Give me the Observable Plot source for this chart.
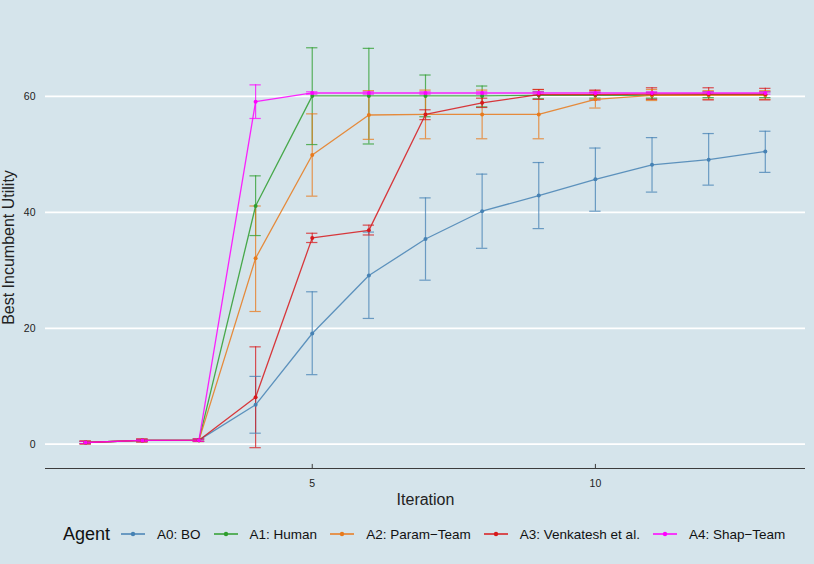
<!DOCTYPE html>
<html>
<head>
<meta charset="utf-8">
<script src="https://cdn.jsdelivr.net/npm/d3@7"></script>
<script src="https://cdn.jsdelivr.net/npm/@observablehq/plot@0.6"></script>
<style>
  html, body { margin: 0; padding: 0; background: #d5e4eb; }
  body { width: 814px; height: 564px; overflow: hidden; font-family: "Liberation Sans", Arial, sans-serif; }
  #legend { height: 44px; display: flex; align-items: center; padding-left: 63px; box-sizing: border-box; color: #111; white-space: nowrap; }
  #legend .title { font-size: 18px; margin-right: 11px; }
  #legend .item { display: flex; align-items: center; margin-right: 13px; font-size: 13.5px; }
  #legend svg { margin-right: 12px; }
</style>
</head>
<body>
<div id="chart"></div>
<div id="legend"></div>
<script>
const iterations = [1, 2, 3, 4, 5, 6, 7, 8, 9, 10, 11, 12, 13];
const agents = ["A0: BO", "A1: Human", "A2: Param\u2212Team", "A3: Venkatesh et al.", "A4: Shap\u2212Team"];
const colors = ["#4682B4", "#2E9E2E", "#E87A1C", "#D7191C", "#FF00FF"];

const boMean = [0.3, 0.65, 0.7, 6.8, 19.1, 29.1, 35.4, 40.2, 42.9, 45.7, 48.2, 49.1, 50.5];
const boLo   = [0.1, 0.45, 0.5, 1.9, 12.0, 21.7, 28.3, 33.8, 37.2, 40.2, 43.5, 44.7, 46.9];
const boHi   = [0.5, 0.85, 0.9, 11.7, 26.3, 36.6, 42.5, 46.6, 48.6, 51.1, 52.9, 53.6, 54.0];

const humanMean = [0.3, 0.65, 0.7, 41.1, 60.1, 60.1, 60.1, 60.1, 60.2, 60.2, 60.2, 60.3, 60.3];
const humanLo   = [0.1, 0.45, 0.5, 36.0, 51.7, 51.8, 56.5, 58.2, 59.6, 59.7, 59.7, 59.8, 59.8];
const humanHi   = [0.5, 0.85, 0.9, 46.3, 68.4, 68.3, 63.7, 61.8, 60.8, 60.7, 60.7, 60.8, 60.8];

const paramMean = [0.3, 0.65, 0.7, 32.1, 49.9, 56.8, 56.9, 56.9, 56.9, 59.5, 60.2, 60.2, 60.2];
const paramLo   = [0.0, 0.35, 0.45, 22.9, 42.8, 52.6, 52.7, 52.7, 52.7, 58.0, 59.3, 59.5, 59.5];
const paramHi   = [0.6, 0.95, 0.95, 41.1, 57.0, 61.0, 61.1, 61.1, 61.2, 61.0, 61.2, 61.0, 61.0];

const venkMean = [0.3, 0.65, 0.7, 8.1, 35.6, 36.9, 56.9, 58.9, 60.3, 60.3, 60.4, 60.4, 60.4];
const venkLo   = [0.1, 0.45, 0.5, -0.6, 34.8, 36.1, 56.0, 58.1, 59.5, 59.4, 59.5, 59.4, 59.4];
const venkHi   = [0.5, 0.85, 0.9, 16.8, 36.4, 37.8, 57.7, 59.7, 61.2, 61.1, 61.5, 61.5, 61.4];

const shapMean = [0.3, 0.65, 0.7, 59.1, 60.6, 60.6, 60.6, 60.6, 60.6, 60.6, 60.6, 60.6, 60.6];
const shapLo   = [0.1, 0.45, 0.5, 56.2, 60.4, 60.4, 60.4, 60.4, 60.4, 60.4, 60.4, 60.4, 60.4];
const shapHi   = [0.5, 0.85, 0.9, 62.0, 60.8, 60.8, 60.8, 60.8, 60.8, 60.8, 60.8, 60.8, 60.8];

const yTicks = [0, 20, 40, 60];
const xTicks = [5, 10];

const series = [
  [boMean, boLo, boHi],
  [humanMean, humanLo, humanHi],
  [paramMean, paramLo, paramHi],
  [venkMean, venkLo, venkHi],
  [shapMean, shapLo, shapHi]
];
const data = [];
series.forEach(([m, lo, hi], k) => {
  iterations.forEach((it, i) => data.push({agent: agents[k], iter: it, mean: m[i], lo: lo[i], hi: hi[i]}));
});

const capHalf = 0.1;
const xDomain = [0.29, 13.71];
const yDomain = [-4.19, 72.07];

const chart = Plot.plot({
  width: 814,
  height: 512,
  marginLeft: 45,
  marginRight: 9,
  marginTop: 26,
  marginBottom: 44,
  style: {background: "transparent", fontFamily: "Liberation Sans, Arial, sans-serif", color: "#222"},
  x: {domain: xDomain},
  y: {domain: yDomain},
  color: {domain: agents, range: colors},
  marks: [
    Plot.ruleY(yTicks, {stroke: "white", strokeWidth: 1.8}),
    Plot.ruleY([yDomain[0]], {stroke: "#3c3c3c", strokeWidth: 1.1}),
    Plot.ruleX(xTicks, {y1: yDomain[0], y2: yDomain[0] + 0.7, stroke: "#3c3c3c", strokeWidth: 1}),
    Plot.axisY({ticks: yTicks, tickSize: 0, tickPadding: 10, fontSize: 10.5, label: "Best Incumbent Utility", labelAnchor: "center", labelArrow: "none", labelOffset: 43}),
    Plot.axisX({ticks: xTicks, tickSize: 0, tickPadding: 11, fontSize: 10.5, label: "Iteration", labelAnchor: "center", labelArrow: "none", labelOffset: 36}),
    Plot.ruleX(data, {x: "iter", y1: "lo", y2: "hi", stroke: "agent", strokeOpacity: 0.75, strokeWidth: 1.2}),
    Plot.ruleY(data, {x1: d => d.iter - capHalf, x2: d => d.iter + capHalf, y: "lo", stroke: "agent", strokeOpacity: 0.75, strokeWidth: 1.2}),
    Plot.ruleY(data, {x1: d => d.iter - capHalf, x2: d => d.iter + capHalf, y: "hi", stroke: "agent", strokeOpacity: 0.75, strokeWidth: 1.2}),
    Plot.line(data, {x: "iter", y: "mean", z: "agent", stroke: "agent", strokeWidth: 1.3, strokeOpacity: 0.85}),
    Plot.dot(data, {x: "iter", y: "mean", fill: "agent", r: 2})
  ]
});
d3.select(chart).selectAll("g[aria-label='y-axis label'] text, g[aria-label='x-axis label'] text").style("font-size", "16px");
document.getElementById("chart").appendChild(chart);

const legend = document.getElementById("legend");
const t = document.createElement("span");
t.className = "title";
t.textContent = "Agent";
legend.appendChild(t);
agents.forEach((a, k) => {
  const item = document.createElement("span");
  item.className = "item";
  item.innerHTML = `<svg width="24" height="10"><line x1="0" x2="24" y1="5" y2="5" stroke="${colors[k]}" stroke-opacity="0.75" stroke-width="2"/><circle cx="12" cy="5" r="2.2" fill="${colors[k]}"/></svg><span>${a}</span>`;
  legend.appendChild(item);
});
</script>
</body>
</html>
